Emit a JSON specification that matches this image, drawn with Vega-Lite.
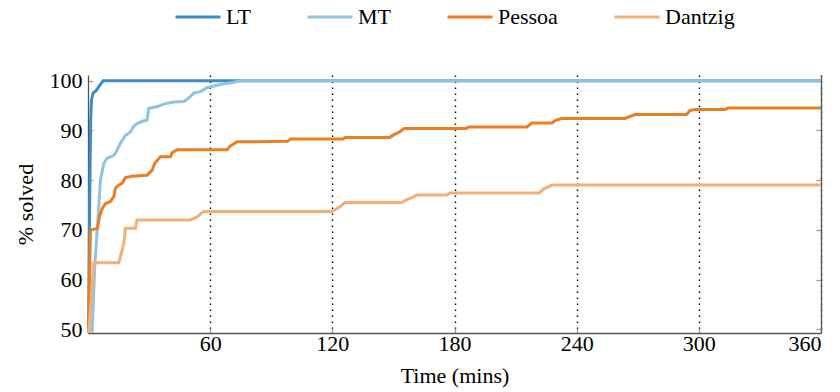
{
  "$schema": "https://vega.github.io/schema/vega-lite/v6.json",
  "width": 733,
  "height": 258,
  "autosize": {"type": "none"},
  "padding": {"left": 88, "top": 75, "right": 19, "bottom": 59},
  "background": "white",
  "config": {
    "view": {"stroke": null},
    "font": "Liberation Serif",
    "axis": {"labelFont": "Liberation Serif", "titleFont": "Liberation Serif", "labelFontSize": 22, "titleFontSize": 22, "labelColor": "black", "titleColor": "black", "titleFontWeight": "normal", "domainColor": "#555", "domainWidth": 1.3, "tickColor": "#999", "tickWidth": 1.2},
    "legend": {"labelFont": "Liberation Serif"}
  },
  "data": {"values": [
    {"series": "LT", "t": 0.3, "v": 49.3}, {"series": "LT", "t": 0.8, "v": 75}, {"series": "LT", "t": 1.3, "v": 92}, {"series": "LT", "t": 1.7, "v": 96.1}, {"series": "LT", "t": 2.5, "v": 97.5}, {"series": "LT", "t": 4.2, "v": 98.1}, {"series": "LT", "t": 5.3, "v": 98.8}, {"series": "LT", "t": 7.5, "v": 100}, {"series": "LT", "t": 360, "v": 100},
    {"series": "MT", "t": 2.0, "v": 49.3}, {"series": "MT", "t": 3.3, "v": 62.6}, {"series": "MT", "t": 5.3, "v": 74.7}, {"series": "MT", "t": 6.1, "v": 80}, {"series": "MT", "t": 7.8, "v": 83.4}, {"series": "MT", "t": 9.4, "v": 84.4}, {"series": "MT", "t": 12.7, "v": 85}, {"series": "MT", "t": 13.5, "v": 85.4}, {"series": "MT", "t": 15.9, "v": 87.4}, {"series": "MT", "t": 18.4, "v": 89}, {"series": "MT", "t": 20.9, "v": 89.7}, {"series": "MT", "t": 22.2, "v": 90.7}, {"series": "MT", "t": 24.1, "v": 91.4}, {"series": "MT", "t": 26.6, "v": 91.8}, {"series": "MT", "t": 29, "v": 92.1}, {"series": "MT", "t": 29.8, "v": 94.4}, {"series": "MT", "t": 34, "v": 94.8}, {"series": "MT", "t": 37.2, "v": 95.3}, {"series": "MT", "t": 42.1, "v": 95.7}, {"series": "MT", "t": 47, "v": 95.8}, {"series": "MT", "t": 49.5, "v": 96.5}, {"series": "MT", "t": 51.9, "v": 97.5}, {"series": "MT", "t": 55.2, "v": 97.8}, {"series": "MT", "t": 58.5, "v": 98.6}, {"series": "MT", "t": 64.3, "v": 99.2}, {"series": "MT", "t": 71.7, "v": 99.7}, {"series": "MT", "t": 74.8, "v": 100}, {"series": "MT", "t": 360, "v": 100},
    {"series": "Pessoa", "t": 0.2, "v": 49.3}, {"series": "Pessoa", "t": 1.2, "v": 70}, {"series": "Pessoa", "t": 4.7, "v": 70.3}, {"series": "Pessoa", "t": 5.6, "v": 72.6}, {"series": "Pessoa", "t": 7, "v": 74.3}, {"series": "Pessoa", "t": 8.6, "v": 75.3}, {"series": "Pessoa", "t": 11, "v": 75.7}, {"series": "Pessoa", "t": 12.7, "v": 76.7}, {"series": "Pessoa", "t": 13.5, "v": 78.4}, {"series": "Pessoa", "t": 15.1, "v": 79}, {"series": "Pessoa", "t": 16.8, "v": 79.4}, {"series": "Pessoa", "t": 18.4, "v": 80.5}, {"series": "Pessoa", "t": 21.7, "v": 80.8}, {"series": "Pessoa", "t": 29, "v": 81}, {"series": "Pessoa", "t": 31.5, "v": 82}, {"series": "Pessoa", "t": 32.8, "v": 83.4}, {"series": "Pessoa", "t": 35.6, "v": 84.7}, {"series": "Pessoa", "t": 40.5, "v": 84.7}, {"series": "Pessoa", "t": 41.3, "v": 85.5}, {"series": "Pessoa", "t": 43.8, "v": 86.1}, {"series": "Pessoa", "t": 68.3, "v": 86.1}, {"series": "Pessoa", "t": 69.9, "v": 86.9}, {"series": "Pessoa", "t": 73.2, "v": 87.7}, {"series": "Pessoa", "t": 98, "v": 87.8}, {"series": "Pessoa", "t": 99.4, "v": 88.3}, {"series": "Pessoa", "t": 125.2, "v": 88.3}, {"series": "Pessoa", "t": 126.3, "v": 88.6}, {"series": "Pessoa", "t": 148.1, "v": 88.6}, {"series": "Pessoa", "t": 150.1, "v": 89.1}, {"series": "Pessoa", "t": 153, "v": 89.7}, {"series": "Pessoa", "t": 155.3, "v": 90.4}, {"series": "Pessoa", "t": 185.7, "v": 90.4}, {"series": "Pessoa", "t": 186.9, "v": 90.7}, {"series": "Pessoa", "t": 215.5, "v": 90.7}, {"series": "Pessoa", "t": 218, "v": 91.5}, {"series": "Pessoa", "t": 227.8, "v": 91.5}, {"series": "Pessoa", "t": 229.4, "v": 92}, {"series": "Pessoa", "t": 232.7, "v": 92.4}, {"series": "Pessoa", "t": 263.7, "v": 92.4}, {"series": "Pessoa", "t": 268.6, "v": 93.2}, {"series": "Pessoa", "t": 294, "v": 93.2}, {"series": "Pessoa", "t": 295.6, "v": 94}, {"series": "Pessoa", "t": 298, "v": 94.2}, {"series": "Pessoa", "t": 312.8, "v": 94.2}, {"series": "Pessoa", "t": 314.4, "v": 94.5}, {"series": "Pessoa", "t": 360, "v": 94.5},
    {"series": "Dantzig", "t": 0.4, "v": 49.3}, {"series": "Dantzig", "t": 2.8, "v": 63.4}, {"series": "Dantzig", "t": 15.1, "v": 63.4}, {"series": "Dantzig", "t": 15.9, "v": 64.6}, {"series": "Dantzig", "t": 17.6, "v": 67.3}, {"series": "Dantzig", "t": 18.4, "v": 70.3}, {"series": "Dantzig", "t": 23.3, "v": 70.3}, {"series": "Dantzig", "t": 24.1, "v": 72}, {"series": "Dantzig", "t": 50.3, "v": 72}, {"series": "Dantzig", "t": 53.6, "v": 72.6}, {"series": "Dantzig", "t": 56.8, "v": 73.7}, {"series": "Dantzig", "t": 119.8, "v": 73.7}, {"series": "Dantzig", "t": 123.9, "v": 74.7}, {"series": "Dantzig", "t": 126.3, "v": 75.5}, {"series": "Dantzig", "t": 154.2, "v": 75.5}, {"series": "Dantzig", "t": 156.6, "v": 76.1}, {"series": "Dantzig", "t": 159.1, "v": 76.5}, {"series": "Dantzig", "t": 161.5, "v": 77}, {"series": "Dantzig", "t": 176.3, "v": 77}, {"series": "Dantzig", "t": 177.5, "v": 77.4}, {"series": "Dantzig", "t": 221.7, "v": 77.4}, {"series": "Dantzig", "t": 223.7, "v": 78.2}, {"series": "Dantzig", "t": 227.8, "v": 79}, {"series": "Dantzig", "t": 360, "v": 79}
  ]},
  "encoding": {
    "x": {"field": "t", "type": "quantitative", "scale": {"domain": [0, 360], "nice": false, "zero": false},
      "axis": {"values": [60, 120, 180, 240, 300, 360], "title": "Time (mins)", "grid": true, "gridColor": "black", "gridDash": [1.4, 4.6], "gridWidth": 1.4, "tickSize": -5, "labelPadding": 5, "titlePadding": 11}}
  },
  "layer": [
    {
      "encoding": {
        "y": {"field": "v", "type": "quantitative", "scale": {"domain": [49.25, 101.15], "nice": false, "zero": false},
          "axis": {"orient": "left", "values": [50, 60, 70, 80, 90, 100], "title": "% solved", "grid": false, "tickSize": -5, "labelPadding": 11, "titlePadding": 12}},
        "color": {"field": "series", "type": "nominal",
          "scale": {"domain": ["LT", "MT", "Pessoa", "Dantzig"], "range": ["#3A8DC8", "#8DC4E3", "#EC7E22", "#F3AF78"]},
          "legend": {"orient": "none", "legendX": 86, "legendY": -82, "direction": "horizontal", "title": null, "symbolType": "stroke", "symbolSize": 2025, "symbolStrokeWidth": 3, "labelFontSize": 22, "labelColor": "black", "labelOffset": 4, "columnPadding": 50, "padding": 0}}
      },
      "layer": [
        {"transform": [{"filter": "datum.series === 'LT'"}], "mark": {"type": "line", "strokeWidth": 3}},
        {"transform": [{"filter": "datum.series === 'MT'"}], "mark": {"type": "line", "strokeWidth": 3}},
        {"transform": [{"filter": "datum.series === 'Pessoa'"}], "mark": {"type": "line", "strokeWidth": 3}},
        {"transform": [{"filter": "datum.series === 'Dantzig'"}], "mark": {"type": "line", "strokeWidth": 3}}
      ]
    },
    {
      "mark": {"type": "line", "opacity": 0},
      "encoding": {
        "y": {"field": "v", "type": "quantitative", "scale": {"domain": [49.25, 101.15], "nice": false, "zero": false},
          "axis": {"orient": "right", "values": [50, 60, 70, 80, 90, 100], "labels": false, "title": null, "grid": false, "tickSize": -5}}
      }
    }
  ],
  "resolve": {"axis": {"y": "independent"}}
}
